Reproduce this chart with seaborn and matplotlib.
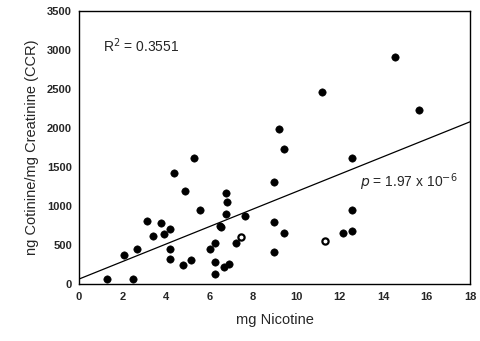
import numpy as np
import pandas as pd
import seaborn as sns
import matplotlib.pyplot as plt

# values
nicotine = [1.27, 2.09, 2.5, 2.66, 3.15, 3.42, 3.76, 3.91, 4.2, 4.19, 4.19, 4.39,
            4.79, 4.89, 5.16, 5.31, 5.59, 6.02, 6.28, 6.26, 6.28, 6.49, 6.52,
            6.75, 6.83, 6.75, 6.69, 6.91, 7.21, 7.66, 8.99, 8.99, 8.99, 9.22,
            9.42, 9.44, 11.17, 12.14, 12.58, 12.58, 12.58, 14.55, 15.65]
ccr = [60, 368, 60, 445, 808, 620, 778, 637, 705, 449, 317, 1419,
       244, 1196, 308, 1619, 953, 453, 522, 286, 132, 744, 725,
       1163, 1047, 897, 218, 260, 522, 872, 1312, 795, 406, 1991,
       1727, 658, 2462, 658, 1612, 949, 679, 2914, 2231]
open_nicotine = [7.44, 11.34]
open_ccr = [606, 551]

df = pd.DataFrame({'nic': nicotine + open_nicotine, 'ccr': ccr + open_ccr})

sns.set_style('white')
plt.rcParams['font.family'] = ['Liberation Sans', 'DejaVu Sans']

fig = plt.figure(figsize=(4.81, 3.41), dpi=100)
ax = fig.add_axes([79 / 481, 1 - 284 / 341, 391 / 481, 273 / 341])
ax.set_xlim(0, 18)
ax.set_ylim(0, 3500)

# regression line over the whole axis
sns.regplot(x='nic', y='ccr', data=df, ci=None, truncate=False, ax=ax,
            scatter=False, line_kws={'color': 'black', 'lw': 0.9})
sns.scatterplot(x=nicotine, y=ccr, color='black', s=28, edgecolor='black', ax=ax)
sns.scatterplot(x=open_nicotine, y=open_ccr, color='white', s=20,
                edgecolor='black', linewidth=1.6, ax=ax)

ax.set_xticks(range(0, 19, 2))
ax.set_yticks(range(0, 3501, 500))
ax.tick_params(axis='both', labelsize=8, length=3, color='black', width=0.8)
ax.tick_params(axis='x', direction='in', pad=6)
ax.tick_params(axis='y', direction='out', pad=2)
for lab in ax.get_xticklabels() + ax.get_yticklabels():
    lab.set_fontweight('bold')
for sp in ax.spines.values():
    sp.set_color('black')
    sp.set_linewidth(1.0)

ax.set_xlabel('mg Nicotine', fontsize=10.5, labelpad=8)
ax.set_ylabel('ng Cotinine/mg Creatinine (CCR)', fontsize=10.5, labelpad=6)

ax.text(1.1, 3050, r'R$^2$ = 0.3551', fontsize=10, va='center')
ax.text(12.95, 1300, r'$p$ = 1.97 x 10$^{-6}$', fontsize=10, va='center')

fig.savefig('out.png', dpi=100)
